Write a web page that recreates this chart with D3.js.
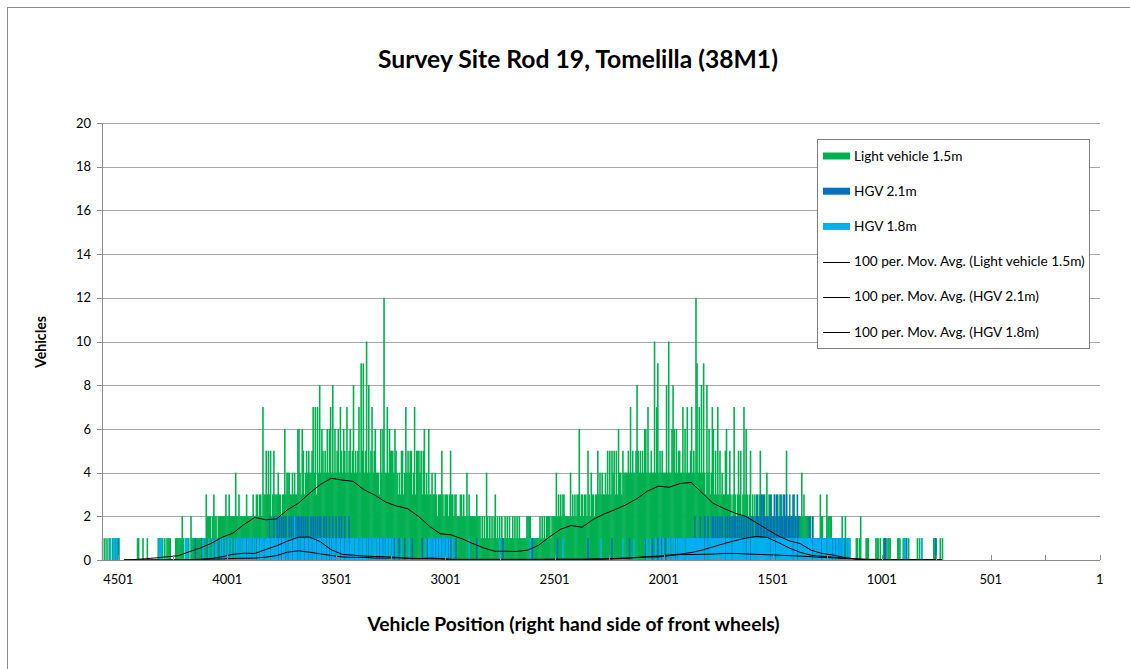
<!DOCTYPE html>
<html><head><meta charset="utf-8">
<script src="https://cdn.jsdelivr.net/npm/d3@7"></script>
<style>body{margin:0;background:#fff}svg{display:block}text{font-family:Lato,"Open Sans",sans-serif;fill:#000}</style>
</head><body><svg id="c" width="1130" height="669"></svg>
<script>
// ---------------- data ----------------
const chartTitle = "Survey Site Rod 19, Tomelilla (38M1)";
const xTitle = "Vehicle Position (right hand side of front wheels)";
const yTitle = "Vehicles";
const seriesNames = ["Light vehicle 1.5m", "HGV 2.1m", "HGV 1.8m"];
const maNames = ["100 per. Mov. Avg. (Light vehicle 1.5m)", "100 per. Mov. Avg. (HGV 2.1m)", "100 per. Mov. Avg. (HGV 1.8m)"];
const yTickValues = [0, 2, 4, 6, 8, 10, 12, 14, 16, 18, 20];
const xTickLabels = [4501, 4001, 3501, 3001, 2501, 2001, 1501, 1001, 501, 1];
const xTickMarks = [4501, 4251, 4001, 3751, 3501, 3251, 3001, 2751, 2501, 2251, 2001, 1751, 1501, 1251, 1001, 751, 501, 251, 1];
// bins of 5 vehicle positions, from position 4575 down to 721 (value per bin, base-36 digit)
const binPositions = d3.range(4575, 720, -5);
const lightVehicle = ["1010101101","1011010000","0000000000","0011000100","0100000000","0110110101","1110000111","1112101011","0211111111","1111132222",
"1232212222","2223223222","2242232222","2232222232","2332332733","5353523533","3433233634","4433434336","6436534545","4457473748",
"4654546467","4846456475","4654745645","8454574959","45a4845745","64443646c4","4746555465","4343553474","5455347355","5453563436",
"3343343233","3532333235","3323322233","2322423222","2223222121","2142121212","3121212112","1212112121","2121111112","2221111111",
"1212121222","2122224232","3233222224","2323233623","3233253243","3233534343","3435353545","3536443544","4454745445","8545454664",
"744544a479","454544484a","4468646455","4474647445","7454c94748","4943846347","6353735343","3563353237","3235352373","6323523232",
"3235232324","2323223223","2322322522","3222322222","2423222212","1211111132","2111322221","1111111121","1211110000","0110120000",
"1110000001","1101001110","1110000001","1100111101","0000000101","0100000000","0011100010","1"];
const hgv21 = ["0000000000","0000100000","0000000000","0000000000","0000000000","0001000000","0000000000","0000000000","0000010000","0100001000",
"0010000100","1000100010","0100010100","1010010100","0101001010","1012010201","2121202120","1202120212","2120212021","0212021202",
"2102120121","1201210212","0120102101","1010010101","0100101001","1010110101","0101101010","0010000100","0000100000","0001000010",
"1011010110","0110101101","0000100000","0000000000","0001000000","0000000000","0000000100","0000000000","0000000000","0000100000",
"0000000000","0000000100","0000000000","0000000000","0000010000","0000000000","0000000100","0000000000","0001000000","0000000010",
"0000100001","0010001000","0100010010","1010010101","0102010120","1021020102","2120212021","1202120212","2121202121","2121212112",
"3212313212","2132123132","1232132312","2123121321","0101010121","1211101111","0101010101","1010110101","0100000000","0000000000",
"0000000000","0000000110","0000000000","0000001100","0000000000","0000000000","0000100000","0"];
const hgv18 = ["0000000100","1101000000","0000000000","0000000000","0000000000","0011100000","0000000000","0000001110","0000000000","0010000100",
"0100100010","1001010010","0101010101","1101011010","1011011101","1111011111","1011011101","0111012110","1011101110","1101110111",
"1011101101","0111011101","1101110111","1011101101","1101011011","1011011010","1101101001","0000100000","0100000000","0000001001",
"1101101101","1011011010","0100000000","0000001000","0000000000","0000000000","0000100000","0000000000","0000000000","0010000000",
"0000000000","0000000000","0010000000","0000000000","0000000000","0000000100","0000000000","0000000100","0000000100","0000000001",
"0010000100","0100100010","1010101011","1111011111","1111111111","1101101111","1111111111","1011111011","1111111111","0111011111",
"1111111111","1101111011","1111111111","1110111011","1111111111","1011111110","1111011110","1101101011","0010110000","0000000000",
"0000000000","0000000000","0000000000","0000011000","0000000000","0100000000","0000000000","0"];
// 100-period moving averages, read every 50 positions
const maPositions = d3.range(4475, 724, -50);
const maLight = [0.0,0.02,0.06,0.1,0.15,0.2,0.38,0.55,0.76,1.04,1.23,1.62,1.95,1.84,1.88,2.3,2.6,3.05,3.45,3.74,3.66,3.6,3.22,2.97,2.65,2.47,2.35,2.0,1.55,1.2,1.15,0.97,0.75,0.55,0.4,0.4,0.39,0.45,0.67,1.05,1.4,1.58,1.5,1.85,2.1,2.3,2.52,2.8,3.15,3.38,3.33,3.5,3.55,3.08,2.6,2.36,2.15,2.0,1.7,1.4,1.1,0.88,0.75,0.45,0.3,0.23,0.12,0.05,0.03,0.02,0.02,0.02,0.01,0.01,0.01,0.0];
const maHGV21 = [0,0,0,0,0,0.01,0.02,0.03,0.07,0.15,0.26,0.31,0.3,0.48,0.65,0.87,1.04,1.05,0.84,0.47,0.26,0.22,0.18,0.16,0.15,0.12,0.08,0.06,0.09,0.07,0.03,0.02,0.02,0.02,0.02,0.02,0.02,0.02,0.02,0.02,0.02,0.02,0.02,0.04,0.05,0.07,0.09,0.12,0.15,0.18,0.23,0.27,0.34,0.45,0.6,0.75,0.88,1.0,1.08,1.03,0.8,0.55,0.35,0.22,0.17,0.13,0.08,0.04,0.02,0.02,0.02,0.02,0.01,0.01,0.01,0.01];
const maHGV18 = [0,0,0,0.01,0.01,0.02,0.02,0.03,0.04,0.05,0.07,0.08,0.09,0.13,0.2,0.36,0.42,0.36,0.28,0.21,0.14,0.12,0.12,0.09,0.09,0.1,0.08,0.07,0.06,0.05,0.03,0.03,0.03,0.03,0.03,0.03,0.03,0.03,0.03,0.04,0.04,0.04,0.04,0.04,0.04,0.06,0.08,0.11,0.14,0.14,0.2,0.25,0.25,0.26,0.27,0.3,0.3,0.28,0.26,0.24,0.22,0.2,0.18,0.15,0.12,0.1,0.08,0.05,0.03,0.03,0.02,0.02,0.02,0.01,0.01,0.01];

// ---------------- drawing ----------------
const colors = ["#00B050", "#0070C0", "#00B0F0"];
const svg = d3.select("#c");
const x = d3.scaleLinear().domain([4575.5, 0.5]).range([102, 1100]);
const y = d3.scaleLinear().domain([0, 20]).range([560, 123]);
const dec = arr => arr.join("").split("").map(c => parseInt(c, 36));

// outer border
svg.append("rect").attr("x", 7.5).attr("y", 7.5).attr("width", 1200).attr("height", 1000)
  .attr("fill", "none").attr("stroke", "#8c8c8c");

// gridlines
svg.append("g").selectAll("line").data(yTickValues.filter(v => v > 0)).join("line")
  .attr("x1", 102).attr("x2", 1100).attr("y1", d => Math.round(y(d)) + 0.5).attr("y2", d => Math.round(y(d)) + 0.5)
  .attr("stroke", "#a6a6a6").attr("stroke-width", 1);

// bars
const seriesVals = [dec(lightVehicle), dec(hgv21), dec(hgv18)];
const bw = x(0) - x(5);
seriesVals.forEach((vals, si) => {
  const data = binPositions.map((p, i) => ({p, v: vals[i] || 0})).filter(d => d.v > 0);
  svg.append("g").selectAll("rect").data(data).join("rect")
    .attr("x", d => x(d.p + 0.5) - 0.15)
    .attr("width", bw + 0.5)
    .attr("y", d => y(d.v))
    .attr("height", d => y(0) - y(d.v))
    .attr("fill", colors[si]);
});

// moving average lines
const line = d3.line().x(d => x(d.p)).y(d => y(d.v));
[maLight, maHGV21, maHGV18].forEach(ma => {
  svg.append("path").datum(maPositions.map((p, i) => ({p, v: ma[i]})))
    .attr("d", line).attr("fill", "none").attr("stroke", "#000").attr("stroke-width", 1);
});

// axes lines
svg.append("line").attr("x1", 102.5).attr("x2", 102.5).attr("y1", 123).attr("y2", 560.5).attr("stroke", "#8c8c8c");
svg.append("line").attr("x1", 97).attr("x2", 1100).attr("y1", 560.5).attr("y2", 560.5).attr("stroke", "#8c8c8c");
// y ticks
const yt = svg.append("g");
yt.selectAll("line").data(yTickValues).join("line")
  .attr("x1", 97).attr("x2", 102).attr("y1", d => Math.round(y(d)) + 0.5).attr("y2", d => Math.round(y(d)) + 0.5)
  .attr("stroke", "#8c8c8c");
yt.selectAll("text").data(yTickValues).join("text")
  .attr("x", 91).attr("y", d => y(d) + 4.6).attr("text-anchor", "end")
  .attr("font-size", 13).text(d => d);
// x ticks
svg.append("g").selectAll("line").data(xTickMarks).join("line")
  .attr("x1", d => Math.round(x(d)) + 0.5).attr("x2", d => Math.round(x(d)) + 0.5).attr("y1", 555).attr("y2", 560)
  .attr("stroke", "#8c8c8c");
svg.append("g").selectAll("text").data(xTickLabels).join("text")
  .attr("x", d => x(d)).attr("y", 583.5).attr("text-anchor", "middle")
  .attr("font-size", 13).text(d => d);

function fit(sel, w) {
  const cur = sel.node().getComputedTextLength();
  const fs = parseFloat(sel.attr("font-size"));
  sel.attr("font-size", (fs * w / cur).toFixed(2));
}
// titles
const t = svg.append("text").attr("x", 578).attr("y", 68).attr("text-anchor", "middle")
  .attr("font-size", 20).attr("font-weight", "bold").text(chartTitle);
fit(t, 400);
const xt = svg.append("text").attr("x", 573.5).attr("y", 631).attr("text-anchor", "middle")
  .attr("font-size", 17).attr("font-weight", "bold").text(xTitle);
fit(xt, 412);
const ytl = svg.append("text").attr("transform", "translate(46,342) rotate(-90)").attr("text-anchor", "middle")
  .attr("font-size", 13).attr("font-weight", "bold").text(yTitle);
fit(ytl, 52);

// legend
const lg = svg.append("g");
lg.append("rect").attr("x", 817.5).attr("y", 139.5).attr("width", 272).attr("height", 209)
  .attr("fill", "#fff").attr("stroke", "#7f7f7f");
const legendItems = seriesNames.map((n, i) => ({n, kind: "bar", c: colors[i]}))
  .concat(maNames.map(n => ({n, kind: "line"})));
const ly = d3.scaleLinear().domain([0, 5]).range([156, 332]);
legendItems.forEach((it, i) => {
  const cy = ly(i);
  if (it.kind === "bar") {
    lg.append("rect").attr("x", 823).attr("y", cy - 3.5).attr("width", 27).attr("height", 7).attr("fill", it.c);
  } else {
    lg.append("line").attr("x1", 823).attr("x2", 850).attr("y1", Math.round(cy) + 0.5).attr("y2", Math.round(cy) + 0.5)
      .attr("stroke", "#000");
  }
  const tx = lg.append("text").attr("x", 854).attr("y", cy + 4.5).attr("font-size", 13).text(it.n);
  if (i === 3) fit(tx, 231);
});
const lfs = lg.selectAll("text").filter((d, i) => i === 3).attr("font-size");
lg.selectAll("text").attr("font-size", lfs);
</script></body></html>
